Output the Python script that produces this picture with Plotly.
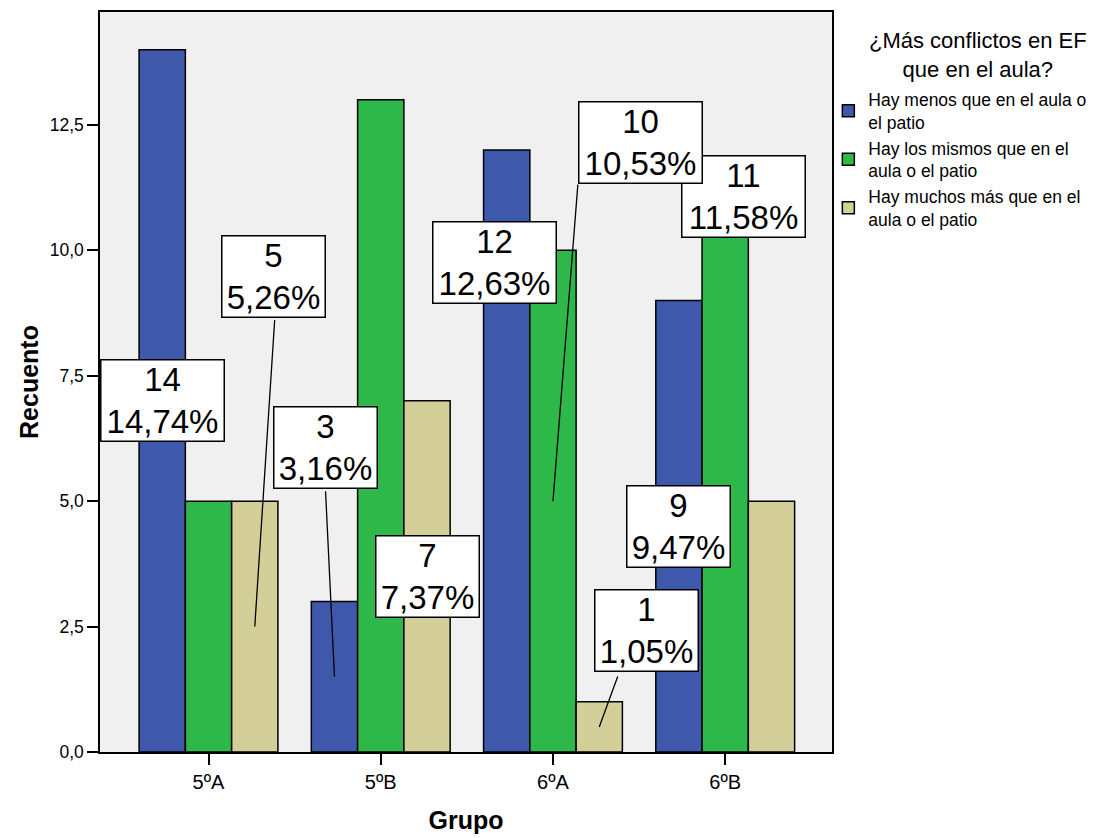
import plotly.graph_objects as go

grupos = ["5ºA", "5ºB", "6ºA", "6ºB"]
series = [
    "Hay menos que en el aula o<br>el patio",
    "Hay los mismos que en el<br>aula o el patio",
    "Hay muchos más que en el<br>aula o el patio",
]
menos = [14, 3, 12, 9]
mismos = [5, 13, 10, 11]
muchos = [5, 7, 1, 5]
colores = ["#3E58AC", "#2EB84A", "#D4CF99"]

total = sum(menos) + sum(mismos) + sum(muchos)

# (serie, grupo, box offset px, line start offset px or None)
etiquetas = [
    (0, 0, (0, 0), None),
    (2, 0, (19, -350), (20, -308)),
    (0, 1, (-9, -229), (-9, -187)),
    (2, 1, (0, 0), None),
    (0, 2, (-12, -188), None),
    (1, 3, (18, -280), None),
    (1, 2, (88, -359), (25, -318)),
    (2, 2, (47, -96), (19, -52)),
    (0, 3, (0, 0), None),
]

valores = [menos, mismos, muchos]
bargap = 0.194
ancho = (1 - bargap) / 3

fig = go.Figure()
for nombre, vals, color in zip(series, valores, colores):
    fig.add_trace(go.Bar(
        x=grupos, y=vals, name=nombre,
        marker=dict(color=color, line=dict(color="black", width=1.5)),
    ))

lineas = []
cajas = []
for s, g, (bx, by), linea in etiquetas:
    v = valores[s][g]
    xp = g + (s - 1) * ancho
    yp = v / 2
    if linea:
        lineas.append(dict(
            x=xp, y=yp, xref="x", yref="y", text="",
            showarrow=True, arrowhead=0, arrowwidth=1.3, arrowcolor="black",
            ax=linea[0], ay=linea[1],
        ))
    w = 126 if v >= 10 else 106
    cajas.append(dict(
        x=xp, y=yp, xref="x", yref="y",
        text=f"{v}<br>{100 * v / total:.2f}%".replace(".", ","),
        showarrow=False, xshift=bx, yshift=-by,
        width=w - 4, height=80,
        bgcolor="white", bordercolor="black", borderwidth=1.5, borderpad=0,
        font=dict(size=33, color="black"),
    ))

titulo_leyenda = dict(
    text="¿Más conflictos en EF<br>que en el aula?",
    xref="paper", yref="paper", x=1.2, y=1.0, xanchor="center", yanchor="top",
    showarrow=False, font=dict(size=22), yshift=-14,
)

fig.update_layout(
    width=1116, height=838,
    margin=dict(l=92, r=292, t=2, b=94),
    paper_bgcolor="white",
    plot_bgcolor="#F0F0F0",
    font=dict(family="Liberation Sans, Arial, sans-serif", color="black"),
    separators=",.",
    barmode="group", bargap=bargap, bargroupgap=0,
    annotations=lineas + cajas + [titulo_leyenda],
    showlegend=True,
    legend=dict(
        x=0.995, y=0.906, xanchor="left", yanchor="top",
        font=dict(size=17.5),
        bgcolor="rgba(0,0,0,0)",
        tracegroupgap=0,
    ),
)
fig.update_xaxes(
    range=[-0.63, 3.62],
    showline=True, linecolor="black", linewidth=1.5, mirror=True,
    ticks="outside", ticklen=11, tickwidth=1.5, tickcolor="black",
    tickfont=dict(size=20),
    title=dict(text="<b>Grupo</b>", font=dict(size=25), standoff=20),
    showgrid=False,
)
fig.update_yaxes(
    range=[0, 14.75],
    tickvals=[0, 2.5, 5, 7.5, 10, 12.5], tickformat=".1f",
    showline=True, linecolor="black", linewidth=1.5, mirror=True,
    ticks="outside", ticklen=11, tickwidth=1.5, tickcolor="black",
    tickfont=dict(size=17.5),
    title=dict(text="<b>Recuento</b>", font=dict(size=25), standoff=4),
    showgrid=False, zeroline=False,
)

fig.write_html("out.html")
